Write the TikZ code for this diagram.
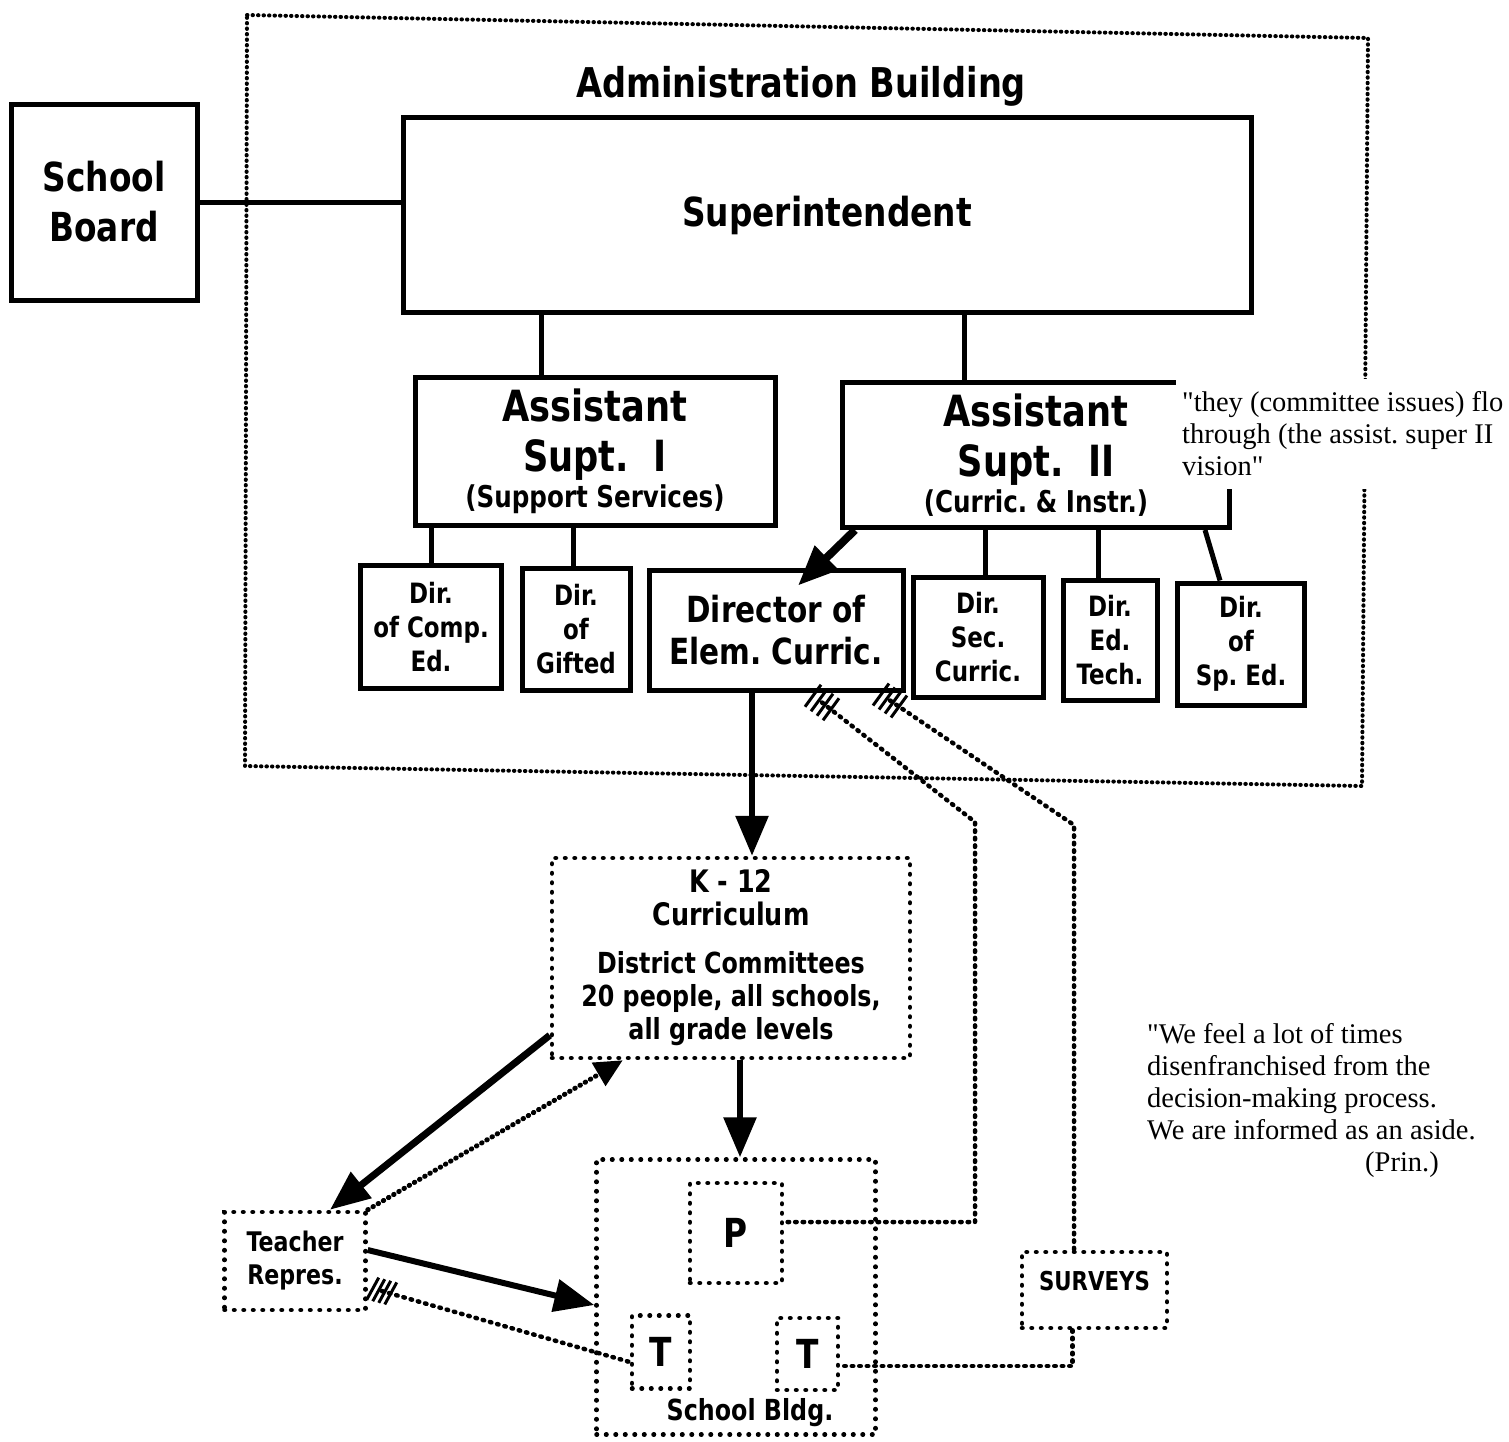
\documentclass[tikz,border=0pt]{standalone}
\usepackage{fontspec}
\setmainfont{Liberation Serif}
\newfontfamily\qf{Liberation Serif}
\newfontfamily\chic[FakeStretch=0.82]{DejaVu Sans}
\usetikzlibrary{arrows.meta,calc}
\newcommand\fs[2]{\fontsize{#1}{#2}\selectfont}
\frenchspacing
\begin{document}
\begin{tikzpicture}[x=1pt,y=-1pt,
  sbox/.style={draw, line width=5pt, inner sep=0pt, align=center},
  dbox/.style={draw, line width=4.5pt, dash pattern=on 0.5pt off 9pt, line cap=round, inner sep=0pt, align=center},
  frame/.style={line width=4pt, dash pattern=on 0.5pt off 5pt, line cap=round},
  dirf/.style={font=\chic\bfseries\fs{28}{34}},
  conn/.style={line width=5pt},
  arr/.style={line width=6pt, -{Triangle[length=40pt,width=32pt]}},
  darr/.style={line width=5pt, dash pattern=on 0.5pt off 5.5pt, line cap=round, -{Triangle[length=28pt,width=26pt]}},
  dline/.style={line width=4.5pt, dash pattern=on 1.5pt off 6pt, line cap=round},
  hatchln/.style={line width=3pt},
  quote/.style={anchor=north west, inner sep=0pt, align=left, font=\qf\frenchspacing\fs{28.5}{32}}
]
\fill[white] (0,0) rectangle (1509,1441);
\useasboundingbox (0,0) rectangle (1509,1441);

% Administration building frame
\draw[frame] (247,15) -- (1368,38) -- (1362,786) -- (245,766) -- cycle;
\node[font=\chic\bfseries\fs{41}{41}] (title) at (801,86) {Administration Building};

% Solid boxes
\node[sbox, minimum width=186pt, minimum height=196pt, font=\chic\bfseries\fs{40}{50}] (sb) at (104,202) {School\\Board};
\node[sbox, minimum width=848pt, minimum height=195pt, font=\chic\bfseries\fs{40}{40}] (sup) at (827,215) {Superintendent};
\node[sbox, minimum width=360pt, minimum height=148pt, font=\chic\bfseries\fs{43}{50}] (a1) at (595,451)
  {Assistant\\Supt.\ \ I\\[-14pt]{\fs{30}{30}(Support Services)}};
\node[sbox, minimum width=387pt, minimum height=145pt, font=\chic\bfseries\fs{43}{50}] (a2) at (1036,455)
  {Assistant\\Supt.\ \ II\\[-14pt]{\fs{30}{30}(Curric. \& Instr.)}};

\node[sbox, dirf, minimum width=141pt, minimum height=123pt] (d1) at (431,627) {Dir.\\of Comp.\\Ed.};
\node[sbox, dirf, minimum width=108pt, minimum height=122pt] (d2) at (576,629) {Dir.\\of\\Gifted};
\node[sbox, minimum width=254pt, minimum height=120pt, font=\chic\bfseries\fs{36}{42}] (elem) at (776,630) {Director of\\Elem. Curric.};
\node[sbox, dirf, minimum width=130pt, minimum height=120pt] (d4) at (978,637) {Dir.\\Sec.\\Curric.};
\node[sbox, dirf, minimum width=94pt, minimum height=120pt] (d5) at (1110,640) {Dir.\\Ed.\\Tech.};
\node[sbox, dirf, minimum width=127pt, minimum height=122pt] (d6) at (1241,644) {Dir.\\of\\Sp. Ed.};

% Dotted boxes
\node[dbox, minimum width=358pt, minimum height=200pt, font=\chic\bfseries\fs{29}{33}] (k12) at (731,958)
  {\fs{31}{33}K - 12\\\fs{31}{33}Curriculum\\[15pt]District Committees\\20 people, all schools,\\all grade levels};
\node[dbox, minimum width=141pt, minimum height=98pt, font=\chic\bfseries\fs{27}{33}] (teach) at (295,1261) {Teacher\\Repres.};
\node[dbox, minimum width=145pt, minimum height=76pt, text height=18pt, text depth=18pt, font=\chic\bfseries\fs{26}{26}] (sur) at (1094.5,1290) {SURVEYS};
\node[dbox, minimum width=279pt, minimum height=275pt,
  label={[font=\chic\bfseries\fs{29}{29}, anchor=south, yshift=6pt, xshift=14pt]south:School Bldg.}] (sch) at (736,1297) {};
\node[dbox, minimum width=92pt, minimum height=100pt, font=\chic\bfseries\fs{40}{40}] (p) at (736,1233) {P};
\node[dbox, minimum width=58pt, minimum height=73pt, font=\chic\bfseries\fs{40}{40}] (tl) at (661,1352) {T};
\node[dbox, minimum width=61pt, minimum height=72pt, font=\chic\bfseries\fs{40}{40}] (tr) at (807.5,1354) {T};

% Solid connectors
\draw[conn] (sb.east) -- (sb.east -| sup.west);
\draw[conn] ([xshift=-54pt]a1.north) -- ([xshift=-54pt]a1.north |- sup.south);
\draw[conn] ([xshift=-72pt]a2.north) -- ([xshift=-72pt]a2.north |- sup.south);
\draw[conn] (d1.north) -- (d1.north |- a1.south);
\draw[conn] ([xshift=-3pt]d2.north) -- ([xshift=-3pt]d2.north |- a1.south);
\draw[conn] ([xshift=7pt]d4.north) -- ([xshift=7pt]d4.north |- a2.south);
\draw[conn] ([xshift=-12pt]d5.north) -- ([xshift=-12pt]d5.north |- a2.south);
\draw[conn] ([xshift=-21pt]d6.north) -- ([xshift=169pt]a2.south);

% Arrows
\draw[arr, line width=8pt] ([xshift=15pt]a2.south west) -- ([xshift=22pt,yshift=-18pt]elem.north);
\draw[arr] ([xshift=-24pt]elem.south) -- ([xshift=-24pt]elem.south |- k12.north);
\draw[arr] ([xshift=9pt]k12.south) -- ([xshift=9pt]k12.south |- sch.north);
\draw[arr, line width=7pt] ([yshift=25pt]k12.south west) -- ([xshift=35pt]teach.north);
\draw[darr] (teach.north east) -- ([xshift=73pt]k12.south west);
\draw[arr] ([yshift=11pt]teach.east) -- ([yshift=-8pt]sch.west);

% Dotted connectors
\coordinate (c1) at (975,822);
\coordinate (c2) at (1074,825);
\draw[dline] ([xshift=46pt,yshift=-10pt]elem.south) coordinate (h1) -- (c1) |- ([yshift=11pt]p.east);
\draw[dline] ([xshift=114pt,yshift=-8pt]elem.south) coordinate (h2) -- (c2) -- (c2 |- sur.north);
\draw[dline] ([xshift=-22pt]sur.south) |- ([yshift=-12pt]tr.east);
\draw[dline] ([xshift=14pt,yshift=-30pt]teach.east) coordinate (h3) -- ([yshift=-10pt]tl.west);

% Hatch marks
\foreach \i in {-1.5,-0.5,0.5,1.5} {
  \draw[hatchln] ($(h1)+(\i*6,\i*4.5)+(-8,11)$) -- ++(16,-22);
  \draw[hatchln] ($(h2)+(\i*6,\i*4)+(-8,11)$) -- ++(16,-22);
  \draw[hatchln] ($(h3)+(\i*6,\i*1.6)+(-6,11)$) -- ++(12,-22);
}

% Quotes
\fill[white] (1176,379) rectangle (1509,489);
\node[quote] (q1) at (1182,391)
  {"they (committee issues) flo\\through (the assist. super II\\vision"};
\node[quote] (q2) at (1147,1023)
  {"We feel a lot of times\\disenfranchised from the\\decision-making process.\\We are informed as an aside.\\\hspace*{218pt}(Prin.)};
\end{tikzpicture}
\end{document}
